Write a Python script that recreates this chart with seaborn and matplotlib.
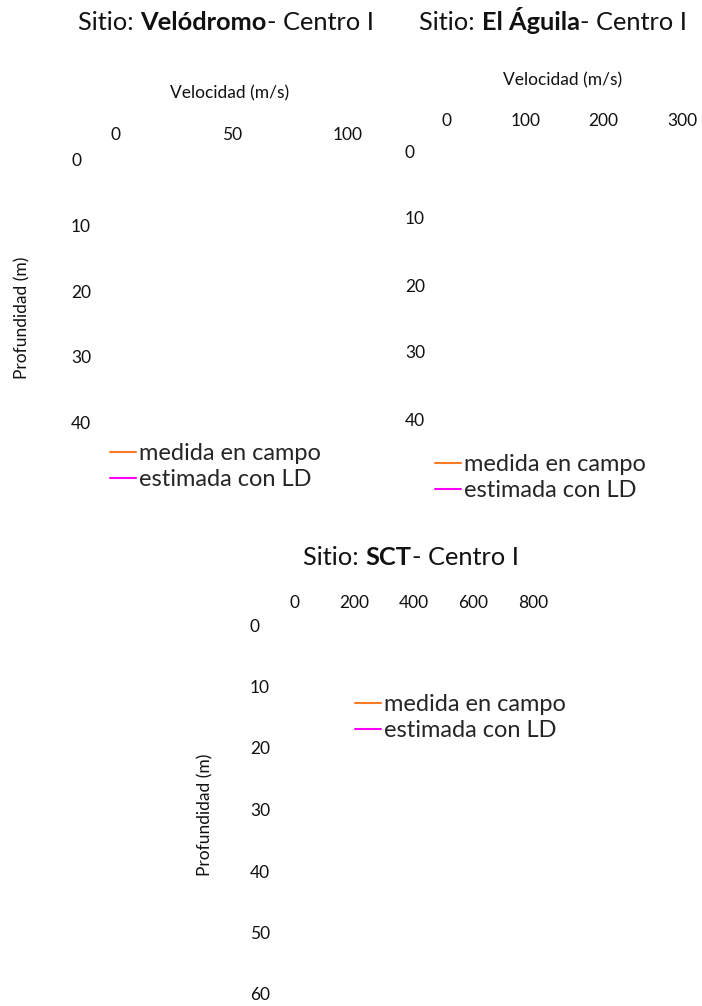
import matplotlib
matplotlib.use("Agg")
import matplotlib.pyplot as plt
import seaborn as sns

sns.set_theme(style="white")
plt.rcParams['font.family'] = ['Lato', 'DejaVu Sans']

# ---- data (the reference shows no visible profile lines: series are empty) ----
series_labels = ["medida en campo", "estimada con LD"]
series_colors = ["#F97B22", "#FF00FF"]

velodromo_vel_medida = []
velodromo_prof_medida = []
velodromo_vel_ld = []
velodromo_prof_ld = []

aguila_vel_medida = []
aguila_prof_medida = []
aguila_vel_ld = []
aguila_prof_ld = []

sct_vel_medida = []
sct_prof_medida = []
sct_vel_ld = []
sct_prof_ld = []

velodromo_xticks = [0, 50, 100]
velodromo_yticks = [0, 10, 20, 30, 40]
aguila_xticks = [0, 100, 200, 300]
aguila_yticks = [0, 10, 20, 30, 40]
sct_xticks = [0, 200, 400, 600, 800]
sct_yticks = [0, 10, 20, 30, 40, 50, 60]

W, H = 702, 1006
fig = plt.figure(figsize=(W / 100, H / 100), dpi=100)


def make_axes(x0, xppu, xlim, y0, yppu, ylim):
    w = (xlim[1] - xlim[0]) * xppu
    h = (ylim[1] - ylim[0]) * yppu
    ax = fig.add_axes([x0 / W, 1 - (y0 + h) / H, w / W, h / H])
    ax.set_xlim(*xlim)
    ax.set_ylim(ylim[1], ylim[0])
    for s in ax.spines.values():
        s.set_visible(False)
    ax.patch.set_alpha(0)
    return ax


def style_ticks(ax, xt, yt, xpad_px, ypad_px, fs=12.5):
    ax.xaxis.tick_top()
    ax.set_xticks(xt)
    ax.set_yticks(yt)
    ax.set_xticklabels([str(v) for v in xt], fontsize=fs, color="#111111")
    ax.set_yticklabels([str(v) for v in yt], fontsize=fs, color="#111111", ha="left")
    ax.tick_params(axis="x", length=0, pad=xpad_px * 0.72)
    ax.tick_params(axis="y", length=0, pad=ypad_px * 0.72)
    ax.grid(False)


def draw_series(ax, xs_list, ys_list):
    for xs, ys, lab, col in zip(xs_list, ys_list, series_labels, series_colors):
        ax.plot(xs, ys, color=col, lw=1.5, label=lab)


def legend(ax, x_px, y_px):
    ax.legend(loc="upper left", bbox_to_anchor=(x_px / W, 1 - y_px / H),
              bbox_transform=fig.transFigure, frameon=False, fontsize=17,
              handlelength=1.1, handletextpad=0.12, labelspacing=0.22,
              borderpad=0, borderaxespad=0)


def title_parts(cx, baseline_px, parts, fs=18.3):
    renderer = fig.canvas.get_renderer()
    texts = []
    for s, w in parts:
        t = fig.text(0, 1 - baseline_px / H, s, fontsize=fs, fontweight=w,
                     va="baseline", ha="left", color="#111111")
        texts.append(t)
    widths = [t.get_window_extent(renderer).width for t in texts]
    x = cx - sum(widths) / 2
    for t, w in zip(texts, widths):
        t.set_x(x / W)
        x += w


# Panel 1: Velódromo
ax1 = make_axes(116, 2.32, (0, 105), 160, 6.56, (0, 45))
draw_series(ax1, [velodromo_vel_medida, velodromo_vel_ld],
            [velodromo_prof_medida, velodromo_prof_ld])
style_ticks(ax1, velodromo_xticks, velodromo_yticks, 16.5, 45)
legend(ax1, 110, 443)

# Panel 2: El Águila
ax2 = make_axes(447, 0.783, (0, 310), 151, 6.7, (0, 45))
draw_series(ax2, [aguila_vel_medida, aguila_vel_ld],
            [aguila_prof_medida, aguila_prof_ld])
style_ticks(ax2, aguila_xticks, aguila_yticks, 21.5, 42)
legend(ax2, 435, 454)

# Panel 3: SCT
ax3 = make_axes(294, 0.299, (0, 850), 625, 6.15, (0, 62))
draw_series(ax3, [sct_vel_medida, sct_vel_ld], [sct_prof_medida, sct_prof_ld])
style_ticks(ax3, sct_xticks, sct_yticks, 13.5, 44)
legend(ax3, 355, 694)

# Axis labels
fig.text(230 / W, 1 - 93 / H, "Velocidad (m/s)", fontsize=12.5, ha="center", va="center", color="#111111")
fig.text(563 / W, 1 - 80 / H, "Velocidad (m/s)", fontsize=12.5, ha="center", va="center", color="#111111")
fig.text(22 / W, 1 - 318 / H, "Profundidad (m)", fontsize=12.5, rotation=90, ha="center", va="center", color="#111111")
fig.text(205 / W, 1 - 815 / H, "Profundidad (m)", fontsize=12.5, rotation=90, ha="center", va="center", color="#111111")

# Titles
title_parts(226, 30, [("Sitio: ", "normal"), ("Velódromo", "bold"), ("- Centro I", "normal")])
title_parts(553, 30, [("Sitio: ", "normal"), ("El Águila", "bold"), ("- Centro I", "normal")])
title_parts(411, 565, [("Sitio: ", "normal"), ("SCT", "bold"), ("- Centro I", "normal")])

fig.savefig("out.png", dpi=100)
